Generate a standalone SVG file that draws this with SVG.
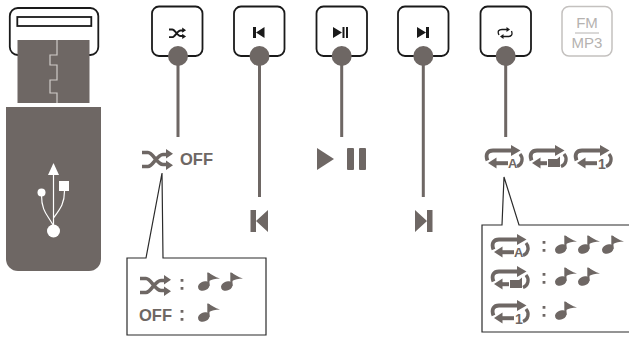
<svg xmlns="http://www.w3.org/2000/svg" xmlns:xlink="http://www.w3.org/1999/xlink" width="629" height="339" viewBox="0 0 629 339">
<style>
.btn{fill:#fff;stroke:#1a1a1a;stroke-width:1.8}
.g{fill:#6e6764}
.k{fill:#1a1a1a}
.conn{stroke:#6e6764;stroke-width:3;fill:none}
.call{fill:#fff;stroke:#2b2b2b;stroke-width:1.2}
.t{font-family:"Liberation Sans",Arial,sans-serif;font-weight:700;fill:#6e6764}
.fm{font-family:"Liberation Sans",Arial,sans-serif;fill:#b5b2b0;font-size:15px;text-anchor:middle}
</style>
<defs>
<g id="shuffle">
<path d="M0 3.500H6C11 3.500 15 15.500 21 15.500H26M0 17.500H6C11 17.500 15 5.500 21 5.500H26" fill="none" stroke="currentColor" stroke-width="3.600"/>
<path d="M24 0L31 4.800L24 9.500ZM24 11.500L31 16.200L24 21Z" fill="currentColor"/>
</g>
<g id="rep">
<path d="M2.500 15.500C0 9 3 5.500 8 5.500H27" fill="none" stroke="#6e6764" stroke-width="3.800"/>
<path d="M26 0L35.500 5.500L26 11Z" class="g"/>
<path d="M35 9C38.500 13 37.500 19.500 32 21.500" fill="none" stroke="#6e6764" stroke-width="3.400"/>
<path d="M3 18L11.500 12.500V23.500Z" class="g"/>
</g>
<g id="note">
<ellipse cx="5.800" cy="14" rx="6" ry="4.500" transform="rotate(-24 5.800 14)" class="g"/>
<path d="M10.400 14V1" stroke="#6e6764" stroke-width="2.200"/>
<path d="M9.500 0C13 2 17 5 22 6.500C17 6.500 14 7.500 11 9Z" class="g"/>
</g>
<g id="repA">
<use xlink:href="#rep"/>
<path d="M10 16.200H23V20.200H10Z" class="g"/>
<text x="23" y="23" class="t" font-size="13">A</text>
</g>
<g id="repAll">
<use xlink:href="#rep"/>
<path d="M10 16.200H18V20.200H10Z" class="g"/>
<path d="M19 14H28L31 11.500V22H19Z" class="g"/>
</g>
<g id="rep1">
<use xlink:href="#rep"/>
<path d="M10 16.200H23V20.200H10Z" class="g"/>
<text x="24" y="23.500" class="t" font-size="14">1</text>
</g>
<path id="colon" d="M-1.400 0h2.800v2.800h-2.800zM-1.400 8h2.800v2.800h-2.800z" class="g"/>
</defs>

<g id="usb">
<rect x="9.800" y="8" width="88.500" height="47" rx="8" fill="#fff" stroke="#1a1a1a" stroke-width="1.800"/>
<rect x="17.300" y="17" width="74" height="9" fill="#fff" stroke="#1a1a1a" stroke-width="1.800"/>
<rect x="17.500" y="40" width="72" height="63" class="g"/>
<path d="M57 40V55H50V65H57V80H50V93H57V103" fill="none" stroke="#cfcbc8" stroke-width="1.200"/>
<path d="M6 107H101V259A12 12 0 0 1 89 271H18A12 12 0 0 1 6 259Z" class="g"/>
<path d="M48 175L53.500 163L59 175Z" fill="#fff"/>
<path d="M53.500 175V231M64.500 191C64.500 204 60 209 53.500 218M41.500 195C41.500 212 48 215 53.500 226" fill="none" stroke="#fff" stroke-width="1.200"/>
<rect x="59" y="181" width="10" height="10" fill="#fff"/>
<circle cx="41.500" cy="192.500" r="4" fill="#fff"/>
<circle cx="53.500" cy="231" r="6.500" fill="#fff"/>
</g>

<g id="btn-shuffle">
<rect x="152" y="6.500" width="50.500" height="49.500" rx="7" class="btn"/>
<use xlink:href="#shuffle" transform="translate(169 27.500) scale(.55)" color="#1a1a1a"/>
</g>
<g id="btn-prev">
<rect x="234" y="6.500" width="50.500" height="49.500" rx="7" class="btn"/>
<path d="M253 27h3v11h-3zM256 32.500L264.500 27V38Z" class="k"/>
</g>
<g id="btn-play">
<rect x="316.500" y="6.500" width="50.500" height="49.500" rx="7" class="btn"/>
<path d="M333 27L342 32.500L333 38ZM342.500 27h2v11h-2zM346 27h2v11h-2z" class="k"/>
</g>
<g id="btn-next">
<rect x="398" y="6.500" width="50.500" height="49.500" rx="7" class="btn"/>
<path d="M417 27L426 32.500L417 38ZM426 27h3v11h-3z" class="k"/>
</g>
<g id="btn-repeat">
<rect x="480.500" y="6.500" width="50.500" height="49.500" rx="7" class="btn"/>
<path d="M499 35C497 31 499 29.500 502 29.500H508M511.500 31C513 35 511 36.500 508 36.500H502" fill="none" stroke="#1a1a1a" stroke-width="1.300"/>
<path d="M506.500 27L510 29.500L506.500 32ZM503.500 34L500 36.500L503.500 39Z" class="k"/>
</g>
<g id="btn-fm">
<rect x="562" y="6.500" width="50" height="49.500" rx="7" fill="#fff" stroke="#c4c1bf" stroke-width="1.500"/>
<text x="587" y="28" class="fm">FM</text>
<path d="M575 33H599" stroke="#b5b2b0" stroke-width="1"/>
<text x="587" y="48" class="fm">MP3</text>
</g>

<g id="connectors">
<path class="conn" d="M178 56V137M259.500 56V197M341.700 56V137M423.300 56V197M505.700 56V137"/>
<circle cx="178" cy="56" r="10" class="g"/>
<circle cx="259.500" cy="56" r="10" class="g"/>
<circle cx="341.700" cy="56" r="10" class="g"/>
<circle cx="423.300" cy="56" r="10" class="g"/>
<circle cx="505.700" cy="56" r="10" class="g"/>
</g>

<g id="shuffle-state">
<use xlink:href="#shuffle" transform="translate(142 149)" color="#6e6764"/>
<text x="180" y="165" class="t" font-size="16.500">OFF</text>
</g>
<g id="prev-state"><path d="M250.500 210h5.500v22h-5.500zM256 221L268 210V232Z" class="g"/></g>
<g id="play-state"><path d="M317 148L334 159L317 170Z" class="g"/><rect x="347" y="148" width="7" height="22" rx="1" class="g"/><rect x="359" y="148" width="7" height="22" rx="1" class="g"/></g>
<g id="next-state"><path d="M415 210L427 221L415 232ZM427 210h5.500v22H427z" class="g"/></g>
<g id="repeat-state">
<use xlink:href="#repA" x="485" y="145"/>
<use xlink:href="#repAll" x="529" y="145"/>
<use xlink:href="#rep1" x="574" y="145"/>
</g>

<g id="callout-shuffle">
<path class="call" d="M162 173L146 258H127V335H266V258H163Z"/>
<use xlink:href="#shuffle" transform="translate(140 275)" color="#6e6764"/>
<use xlink:href="#colon" x="182" y="279"/>
<use xlink:href="#note" x="198" y="272"/>
<use xlink:href="#note" x="221" y="272"/>
<text x="139" y="321" class="t" font-size="16.500">OFF</text>
<use xlink:href="#colon" x="182" y="310"/>
<use xlink:href="#note" x="198" y="303"/>
</g>
<g id="callout-repeat">
<path class="call" d="M504 177L502 225H482V332H632V225H519Z"/>
<use xlink:href="#repA" x="491" y="234"/>
<use xlink:href="#colon" x="544" y="241"/>
<use xlink:href="#note" x="555" y="235"/>
<use xlink:href="#note" x="578" y="235"/>
<use xlink:href="#note" x="602" y="235"/>
<use xlink:href="#repAll" x="491" y="266"/>
<use xlink:href="#colon" x="544" y="273"/>
<use xlink:href="#note" x="555" y="267"/>
<use xlink:href="#note" x="578" y="267"/>
<use xlink:href="#rep1" x="491" y="300"/>
<use xlink:href="#colon" x="544" y="306"/>
<use xlink:href="#note" x="555" y="301"/>
</g>
</svg>
